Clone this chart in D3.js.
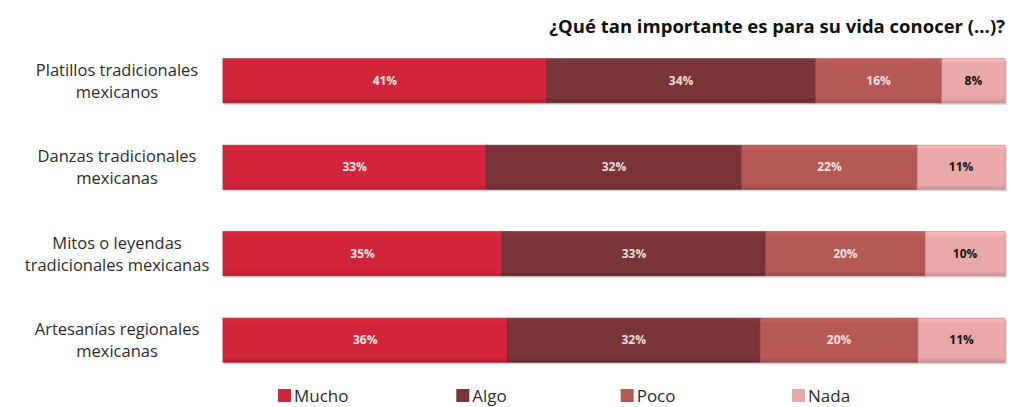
<!DOCTYPE html>
<html>
<head>
<meta charset="utf-8">
<script src="https://cdn.jsdelivr.net/npm/d3@7"></script>
<style>
  body { margin: 0; background: #ffffff; }
  svg { display: block; }
</style>
</head>
<body>
<svg id="chart" width="1011" height="407"></svg>
<script>
// data
let categories = [
    ["Platillos tradicionales", "mexicanos"],
    ["Danzas tradicionales", "mexicanas"],
    ["Mitos o leyendas", "tradicionales mexicanas"],
    ["Artesanías regionales", "mexicanas"]
];
let series = ["Mucho", "Algo", "Poco", "Nada"];
let mucho = [41, 33, 35, 36];
let algo = [34, 32, 33, 32];
let poco = [16, 22, 20, 20];
let nada = [8, 11, 10, 11];
let colours = ['#d1253a', '#783437', '#b55955', '#eaa9a9'];
let labelColours = ['#f6e4e4', '#f3dcdc', '#f6e2e2', '#111111'];
let title = '¿Qué tan importante es para su vida conocer (...)?';

let svg = d3.select("#chart");

let rows = categories.map(function(c, i) {
    return {key: i, Mucho: mucho[i], Algo: algo[i], Poco: poco[i], Nada: nada[i]};
});

let stacked = d3.stack()
    .keys(series)
    .offset(d3.stackOffsetExpand)(rows);

//x and y scale
let xScale = d3.scaleLinear()
    .domain([0, 1])
    .range([223, 1005]);

let yScale = d3.scaleBand()
    .domain(d3.range(categories.length))
    .range([38, 383])
    .paddingInner(0.49)
    .paddingOuter(0.24);

// little shading on the bars
let defs = svg.append('defs');
colours.forEach(function(c, i) {
    let g = defs.append('linearGradient')
        .attr('id', 'grad' + i)
        .attr('x1', 0).attr('x2', 0).attr('y1', 0).attr('y2', 1);
    g.append('stop').attr('offset', '0%').attr('stop-color', d3.color(c).brighter(0.25));
    g.append('stop').attr('offset', '12%').attr('stop-color', c);
    g.append('stop').attr('offset', '88%').attr('stop-color', c);
    g.append('stop').attr('offset', '100%').attr('stop-color', d3.color(c).darker(0.4));
});

//shadow under each bar
svg.append('g').selectAll('rect')
    .data(rows)
    .enter()
    .append('rect')
    .attr('x', xScale(0) + 1)
    .attr('y', function(d) { return yScale(d.key) + 2 })
    .attr('width', xScale(1) - xScale(0) + 1)
    .attr('height', yScale.bandwidth())
    .attr('fill', '#d8d8d8');

//bars
let layers = svg.append('g').selectAll('g')
    .data(stacked)
    .enter()
    .append('g');

layers.selectAll('rect')
    .data(function(d) { return d.map(function(p) { p.layer = d.index; return p; }) })
    .enter()
    .append('rect')
    .attr('x', function(d) { return xScale(d[0]) })
    .attr('y', function(d) { return yScale(d.data.key) })
    .attr('width', function(d) { return xScale(d[1]) - xScale(d[0]) })
    .attr('height', yScale.bandwidth())
    .attr('fill', function(d) { return 'url(#grad' + d.layer + ')' })
    .attr('stroke', function(d) { return d3.color(colours[d.layer]).darker(0.5) })
    .attr('stroke-width', 0.8);

//value labels
layers.selectAll('text')
    .data(function(d) { return d })
    .enter()
    .append('text')
    .attr('x', function(d) { return (xScale(d[0]) + xScale(d[1])) / 2 })
    .attr('y', function(d) { return yScale(d.data.key) + yScale.bandwidth() / 2 })
    .attr('dy', '0.35em')
    .attr('text-anchor', 'middle')
    .attr('font-family', 'Open Sans, sans-serif')
    .attr('font-weight', 'bold')
    .attr('font-size', 12)
    .attr('fill', function(d) { return labelColours[d.layer] })
    .text(function(d) { return d.data[series[d.layer]] + '%' });

//category labels
let catLabels = svg.append('g').selectAll('text')
    .data(categories)
    .enter()
    .append('text')
    .attr('text-anchor', 'middle')
    .attr('font-family', 'Open Sans, sans-serif')
    .attr('font-size', 16.5)
    .attr('fill', '#2b2b2b')
    .attr('transform', function(d, i) {
        return 'translate(117,' + (yScale(i) + yScale.bandwidth() / 2) + ')';
    });

catLabels.selectAll('tspan')
    .data(function(d) { return d })
    .enter()
    .append('tspan')
    .attr('x', 0)
    .attr('y', function(d, j) { return j === 0 ? -5 : 17 })
    .text(function(d) { return d });

//title
svg.append('text')
    .attr('x', 1005)
    .attr('y', 33)
    .attr('text-anchor', 'end')
    .attr('font-family', 'Open Sans, sans-serif')
    .attr('font-weight', 'bold')
    .attr('font-size', 18.5)
    .attr('fill', '#111111')
    .text(title);

//legend
let legendX = d3.scalePoint()
    .domain(series)
    .range([278, 792]);
let legendOffsets = {Mucho: 0, Algo: 7, Poco: 0, Nada: 0};

let legend = svg.append('g').selectAll('g')
    .data(series)
    .enter()
    .append('g')
    .attr('transform', function(d) { return 'translate(' + (legendX(d) + legendOffsets[d]) + ',389)' });

legend.append('rect')
    .attr('width', 13)
    .attr('height', 13)
    .attr('fill', function(d, i) { return colours[i] });

legend.append('text')
    .attr('x', 16)
    .attr('y', 13)
    .attr('font-family', 'Open Sans, sans-serif')
    .attr('font-size', 17)
    .attr('fill', '#2b2b2b')
    .text(function(d) { return d });
</script>
</body>
</html>
